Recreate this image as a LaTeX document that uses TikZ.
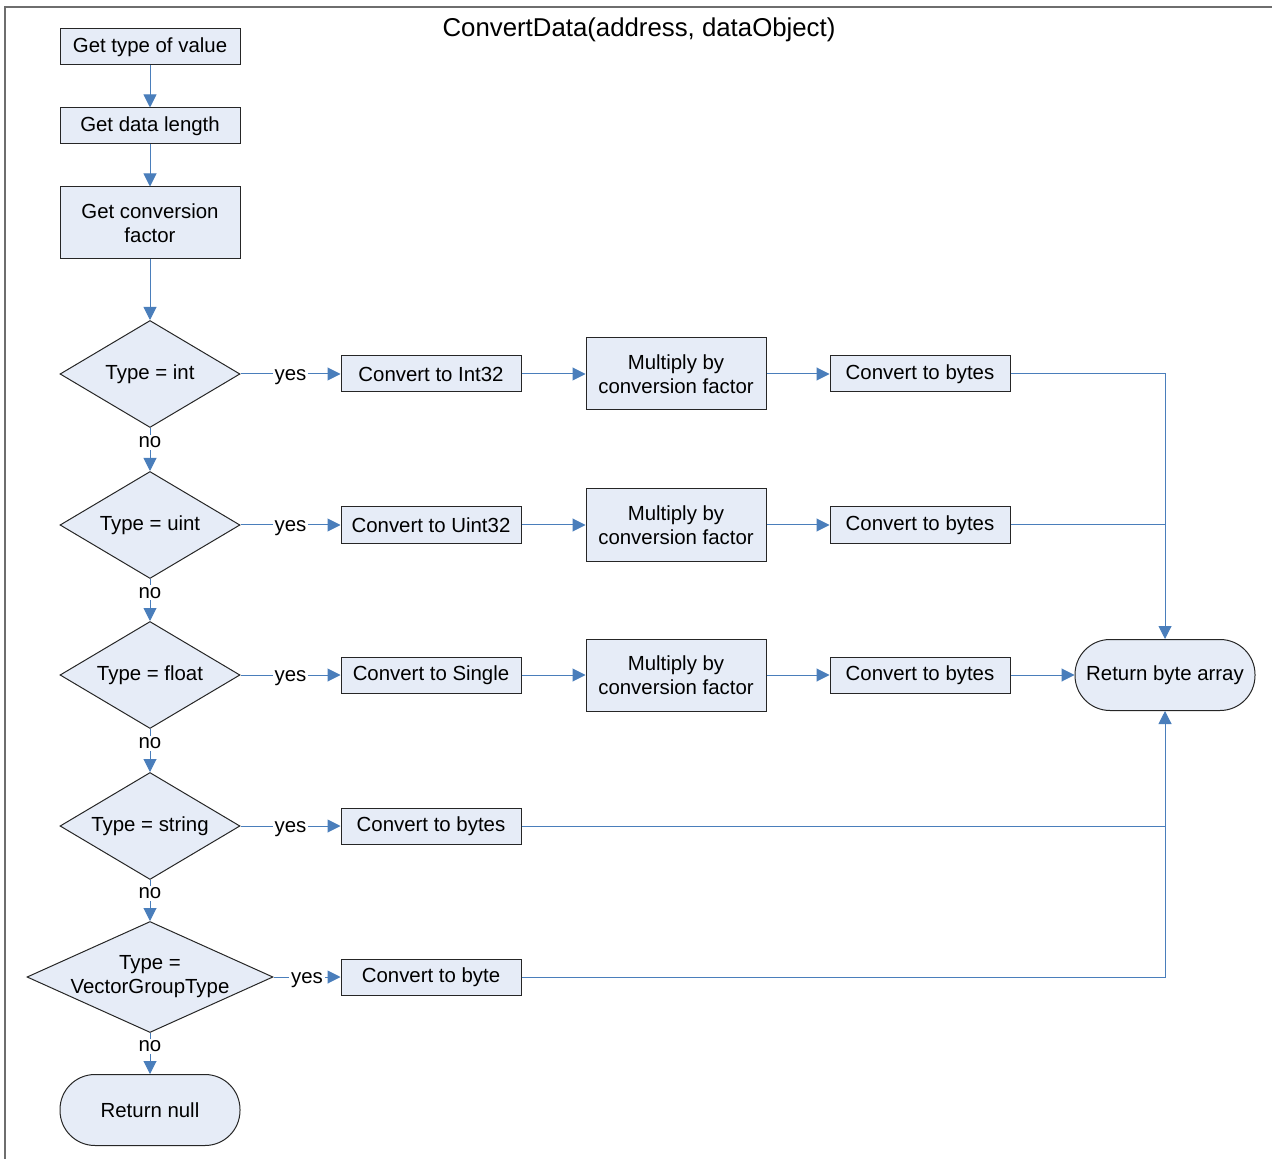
\documentclass[tikz,border=0pt]{standalone}
\usepackage{fontspec}
\setmainfont{Liberation Sans}
\usetikzlibrary{arrows.meta,shapes.geometric}
\definecolor{BoxFill}{HTML}{E6ECF7}
\definecolor{FlowBlue}{HTML}{4A7EBB}
\definecolor{FrameGray}{HTML}{6E6E6E}
\definecolor{EdgeGray}{HTML}{262626}

\tikzset{
  proc/.style={draw=EdgeGray,fill=BoxFill,line width=0.5pt,minimum width=90pt,minimum height=18pt,inner sep=1pt,align=center},
  tallproc/.style={proc,minimum height=36pt},
  decide/.style={diamond,draw=EdgeGray,fill=BoxFill,line width=0.5pt,aspect=1.7,minimum width=90pt,minimum height=53.5pt,inner sep=0pt,align=center},
  terminal/.style={draw=EdgeGray,fill=BoxFill,line width=0.5pt,rounded corners=17.5pt,minimum width=90pt,minimum height=35.5pt,inner sep=1pt,align=center},
  flow/.style={draw=FlowBlue,line width=0.5pt},
  lbl/.style={fill=white,inner sep=1pt},
  yeslbl/.style={lbl,yshift=-1.5pt}
}

\begin{document}
\begin{tikzpicture}[x=0.5pt,y=0.5pt,>={Triangle[length=6.5pt,width=6.5pt]},every node/.style={font=\fontsize{10.2}{12}\selectfont}]
  \useasboundingbox (0,0) rectangle (1272,-1159);
  \draw[FrameGray,line width=1pt] (5,-1159) -- (5,-7) -- (1272,-7);
  \node[font=\fontsize{12.9}{15}\selectfont] (title) at (639,-30) {ConvertData(address, dataObject)};

  % set-up steps
  \node[proc] (gettype) at (150,-47) {Get type of value};
  \node[proc] (getlen) at (150,-126) {Get data length};
  \node[tallproc] (getfac) at (150,-223) {Get conversion\\factor};

  % type checks
  \node[decide] (isint) at (150,-374) {Type = int};
  \node[decide] (isuint) at (150,-525) {Type = uint};
  \node[decide] (isfloat) at (150,-675) {Type = float};
  \node[decide] (isstr) at (150,-826) {Type = string};
  \node[decide,aspect=2.2,inner xsep=-6pt,minimum width=123pt,minimum height=55.5pt] (isvec) at (150,-977) {Type =\\VectorGroupType};
  \node[terminal] (retnull) at (150,-1110) {Return null};

  % conversions
  \node[proc] (toint) at (431,-374) {Convert to Int32};
  \node[proc] (touint) at (431,-525) {Convert to Uint32};
  \node[proc] (tosingle) at (431,-675) {Convert to Single};
  \node[proc] (strbytes) at (431,-826) {Convert to bytes};
  \node[proc] (tobyte) at (431,-977) {Convert to byte};

  \node[tallproc] (mulint) at (676,-374) {Multiply by\\conversion factor};
  \node[tallproc] (muluint) at (676,-525) {Multiply by\\conversion factor};
  \node[tallproc] (mulfloat) at (676,-675) {Multiply by\\conversion factor};

  \node[proc] (bytint) at (920,-374) {Convert to bytes};
  \node[proc] (bytuint) at (920,-525) {Convert to bytes};
  \node[proc] (bytfloat) at (920,-675) {Convert to bytes};

  \node[terminal] (retarr) at (1165,-675) {Return byte array};

  % left column
  \draw[flow,->] (gettype) -- (getlen);
  \draw[flow,->] (getlen) -- (getfac);
  \draw[flow,->] (getfac) -- (isint);
  \draw[flow,->] (isint.south) -- node[lbl,pos=0.33]{no} (isuint.north);
  \draw[flow,->] (isuint.south) -- node[lbl,pos=0.33]{no} (isfloat.north);
  \draw[flow,->] (isfloat.south) -- node[lbl,pos=0.33]{no} (isstr.north);
  \draw[flow,->] (isstr.south) -- node[lbl,pos=0.33]{no} (isvec.north);
  \draw[flow,->] (isvec.south) -- node[lbl,pos=0.33]{no} (retnull.north);

  % yes branches
  \draw[flow,->] (isint.east) -- node[yeslbl]{yes} (toint.west);
  \draw[flow,->] (isuint.east) -- node[yeslbl]{yes} (touint.west);
  \draw[flow,->] (isfloat.east) -- node[yeslbl]{yes} (tosingle.west);
  \draw[flow,->] (isstr.east) -- node[yeslbl]{yes} (strbytes.west);
  \draw[flow,->] (isvec.east) -- node[yeslbl]{yes} (tobyte.west);

  \draw[flow,->] (toint) -- (mulint);
  \draw[flow,->] (touint) -- (muluint);
  \draw[flow,->] (tosingle) -- (mulfloat);
  \draw[flow,->] (mulint) -- (bytint);
  \draw[flow,->] (muluint) -- (bytuint);
  \draw[flow,->] (mulfloat) -- (bytfloat);

  % results
  \draw[flow,->] (bytint.east) -| (retarr.north);
  \draw[flow] (bytuint.east) -- (bytuint.east -| retarr.north);
  \draw[flow,->] (bytfloat) -- (retarr);
  \draw[flow,->] (strbytes.east) -| (retarr.south);
  \draw[flow] (tobyte.east) -- (tobyte.east -| retarr.south) -- (strbytes.east -| retarr.south);
\end{tikzpicture}
\end{document}
